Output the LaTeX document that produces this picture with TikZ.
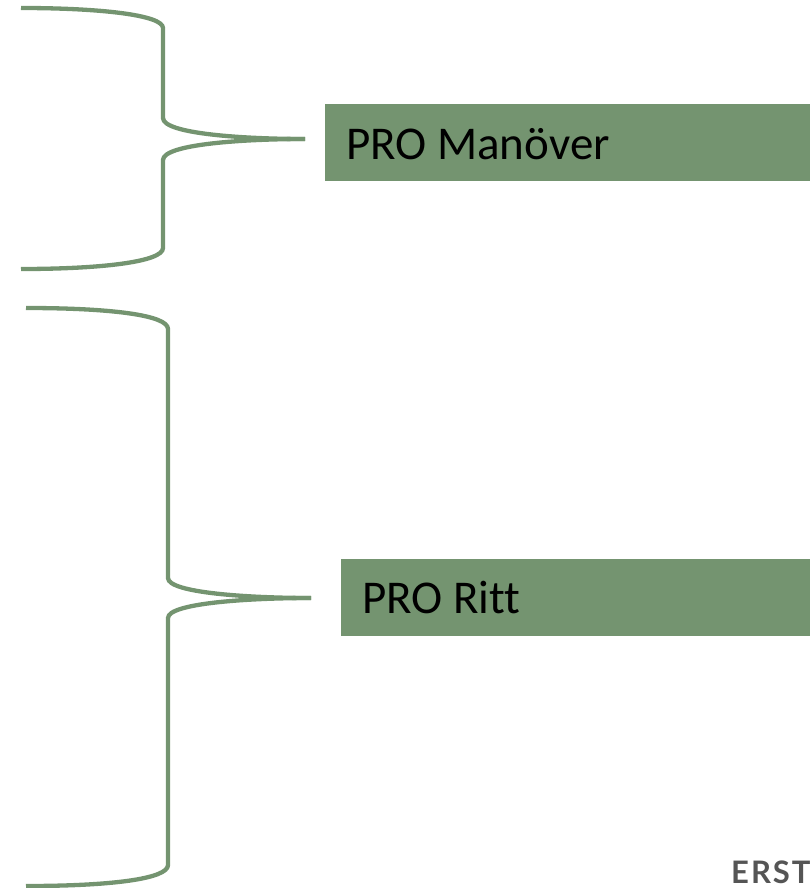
\documentclass[tikz,border=0pt]{standalone}
\usepackage{fontspec}
\setmainfont[Ligatures=CommonOff]{Carlito}
\newfontfamily\logofont{Lato}
\definecolor{brgreen}{RGB}{116,148,112}
\definecolor{logogray}{RGB}{85,85,85}
\begin{document}
\begin{tikzpicture}[x=1pt,y=-1pt,
  bracestyle/.style={draw=brgreen,line width=4.3pt,line join=round},
  labelbox/.style={fill=brgreen,inner sep=0pt,anchor=north west},
  labeltext/.style={anchor=base west,inner sep=0pt,font=\fontsize{47}{52}\selectfont,text=black}]
\useasboundingbox (0,0) rectangle (810,888);
\clip (0,0) rectangle (810,888);
% brace 1
\draw[bracestyle] (21,8) .. controls (100,8) and (163,15) .. (163,28) -- (163,118)
  .. controls (163,134) and (245,139) .. (305,139);
\draw[bracestyle] (305,139) .. controls (245,139) and (163,144) .. (163,160) -- (163,248)
  .. controls (163,262) and (100,269) .. (21,269);
% brace 2
\draw[bracestyle] (26,308) .. controls (110,308) and (168,315) .. (168,329) -- (168,578)
  .. controls (168,593) and (250,598) .. (311,598);
\draw[bracestyle] (311,598) .. controls (250,598) and (168,603) .. (168,618) -- (168,865)
  .. controls (168,879) and (110,886) .. (26,886);
% boxes
\node[labelbox,minimum width=485pt,minimum height=77pt] (box1) at (325,104) {};
\node[labeltext] (t1) at (346,159) {PRO Manöver};
\node[labelbox,minimum width=469pt,minimum height=77pt] (box2) at (341,559) {};
\node[labeltext] (t2) at (362,613) {PRO Ritt};
% logo
\node[anchor=base west,inner sep=0pt,text=logogray,font=\logofont\bfseries\fontsize{31}{32}\selectfont] (logo) at (731,883) {E\kern2ptR\kern2ptS\kern2ptT};
\end{tikzpicture}
\end{document}
